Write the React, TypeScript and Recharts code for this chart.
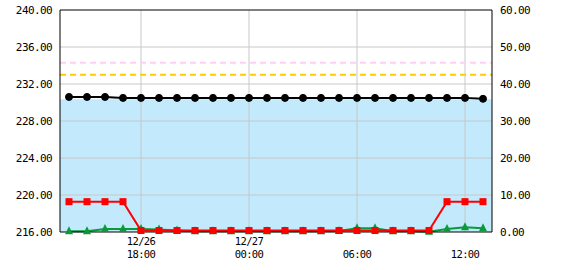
import { ComposedChart, Line, XAxis, YAxis, ReferenceArea, ReferenceLine } from 'recharts'

const times = [
  '12/26 14:00', '12/26 15:00', '12/26 16:00', '12/26 17:00', '12/26 18:00', '12/26 19:00',
  '12/26 20:00', '12/26 21:00', '12/26 22:00', '12/26 23:00', '12/27 00:00', '12/27 01:00',
  '12/27 02:00', '12/27 03:00', '12/27 04:00', '12/27 05:00', '12/27 06:00', '12/27 07:00',
  '12/27 08:00', '12/27 09:00', '12/27 10:00', '12/27 11:00', '12/27 12:00', '12/27 13:00',
]

// left axis (V)
const voltage = [
  230.6, 230.6, 230.6, 230.5, 230.5, 230.5, 230.5, 230.5, 230.5, 230.5, 230.5, 230.5,
  230.5, 230.5, 230.5, 230.5, 230.5, 230.5, 230.5, 230.5, 230.5, 230.5, 230.5, 230.4,
]

// right axis
const redSeries = [
  8.2, 8.2, 8.2, 8.2, 0.4, 0.4, 0.4, 0.4, 0.4, 0.4, 0.4, 0.4,
  0.4, 0.4, 0.4, 0.4, 0.4, 0.4, 0.4, 0.4, 0.4, 8.2, 8.2, 8.2,
]
const greenSeries = [
  0.2, 0.2, 0.8, 0.8, 0.8, 0.7, 0.4, 0.2, 0.2, 0.2, 0.2, 0.2,
  0.2, 0.2, 0.2, 0.3, 1.0, 1.0, 0.2, 0.2, 0.1, 0.8, 1.3, 1.0,
]

const xTicks = ['12/26 18:00', '12/27 00:00', '12/27 06:00', '12/27 12:00']
const leftTicks = [216, 220, 224, 228, 232, 236, 240]
const rightTicks = [0, 10, 20, 30, 40, 50, 60]
const bandTop = 230.35
const pinkLimit = 234.3
const yellowLimit = 233.0

const data = times.map((t, i) => ({
  time: t,
  voltage: voltage[i],
  red: redSeries[i],
  green: greenSeries[i],
}))

const font = { fontFamily: 'DejaVu Sans Mono, monospace', fontSize: 11, letterSpacing: -0.6, fill: '#000' }
const gridColor = '#c8c8c8'

function TimeTick(props: any) {
  const { x, y, payload } = props
  const [date, hour] = String(payload.value).split(' ')
  const showDate = hour === '18:00' || hour === '00:00'
  return (
    <g>
      {showDate && (
        <text x={x} y={y} dy={5} textAnchor="middle" {...font} fontSize={10.5}>{date}</text>
      )}
      <text x={x} y={y} dy={18} textAnchor="middle" {...font} fontSize={10.5}>{hour}</text>
    </g>
  )
}

function Square(props: any) {
  const { cx, cy, index } = props
  if (cx == null || cy == null) return <g key={index} />
  return <rect key={index} x={cx - 3.5} y={cy - 3.5} width={7} height={7} fill="#ff0000" />
}

function Triangle(props: any) {
  const { cx, cy, index } = props
  if (cx == null || cy == null) return <g key={index} />
  return <polygon key={index} points={`${cx},${cy - 5} ${cx - 4},${cy + 3} ${cx + 4},${cy + 3}`} fill="#0a9a3a" />
}

export default function App() {
  return (
    <ComposedChart width={570} height={270} data={data} margin={{ top: 10, right: 0, bottom: 0, left: 0 }}
      style={{ position: 'absolute', left: 0, top: 0 }}>
      <ReferenceArea yAxisId="left" y1={216} y2={bandTop} fill="#c2e9fc" fillOpacity={1} stroke="none" />
      {leftTicks.slice(1, -1).map((v) => (
        <ReferenceLine key={'h' + v} yAxisId="left" y={v} stroke={gridColor} />
      ))}
      {xTicks.map((t) => (
        <ReferenceLine key={'v' + t} yAxisId="left" x={t} stroke={gridColor} />
      ))}
      <XAxis dataKey="time" scale="band" ticks={xTicks} interval={0} tick={<TimeTick />} tickLine={false}
        axisLine={{ stroke: '#000' }} height={38} />
      <YAxis yAxisId="left" domain={[216, 240]} ticks={leftTicks} tickFormatter={(v: number) => v.toFixed(2)}
        tick={font} tickLine={false} axisLine={{ stroke: '#000' }} width={60} interval={0} />
      <YAxis yAxisId="right" orientation="right" domain={[0, 60]} ticks={rightTicks}
        tickFormatter={(v: number) => v.toFixed(2)} tick={{ ...font, textAnchor: 'start' }} tickLine={false}
        axisLine={{ stroke: '#000' }} width={78} interval={0} />
      <ReferenceLine yAxisId="left" y={240} stroke="#000" />
      <ReferenceLine yAxisId="left" y={pinkLimit} stroke="#ffd0f6" strokeWidth={2} strokeDasharray="6 4" />
      <ReferenceLine yAxisId="left" y={yellowLimit} stroke="#ffcc00" strokeWidth={2} strokeDasharray="6 4" />
      <Line yAxisId="right" dataKey="green" stroke="#0a9a3a" strokeWidth={2} dot={<Triangle />}
        isAnimationActive={false} />
      <Line yAxisId="right" dataKey="red" stroke="#ff0000" strokeWidth={2} dot={<Square />}
        isAnimationActive={false} />
      <Line yAxisId="left" dataKey="voltage" stroke="#000" strokeWidth={2}
        dot={{ r: 3.5, fill: '#000', stroke: '#000', strokeWidth: 1 }} isAnimationActive={false} />
    </ComposedChart>
  )
}
